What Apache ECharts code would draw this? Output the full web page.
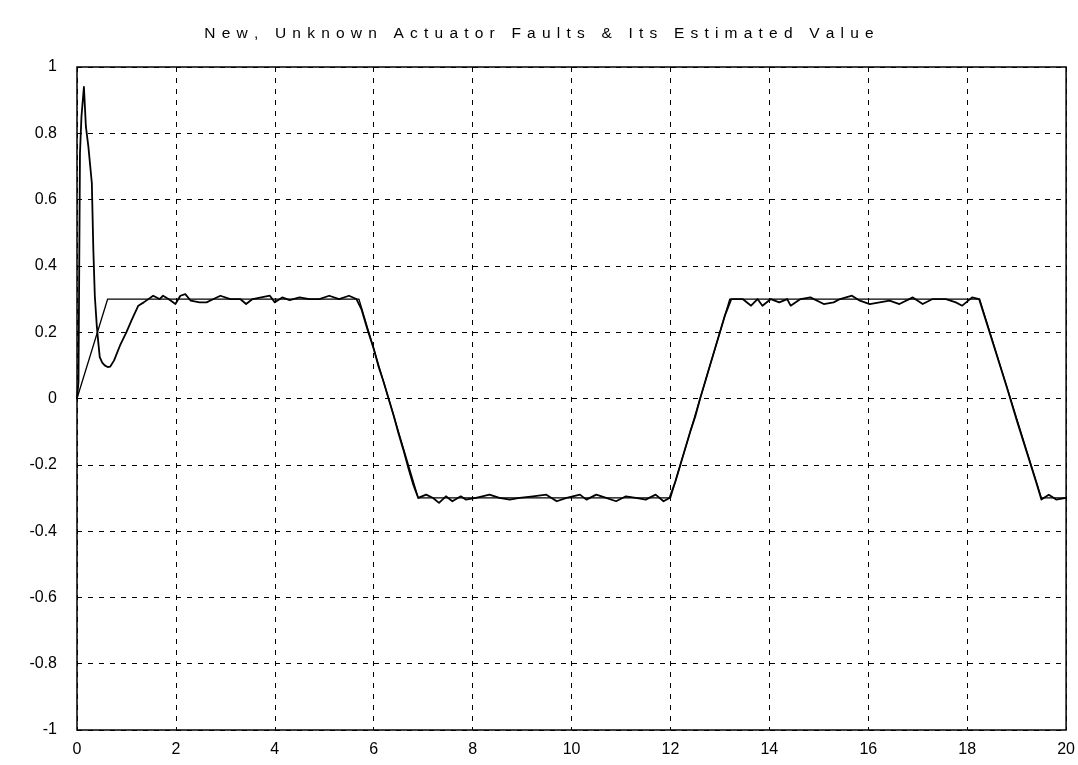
<!DOCTYPE html>
<html>
<head>
<meta charset="utf-8">
<title>Actuator fault estimation</title>
<script src="https://cdn.jsdelivr.net/npm/echarts@6/dist/echarts.min.js"></script>
<style>
  html, body { margin: 0; padding: 0; background: #fff; }
  #chart { width: 1078px; height: 765px; }
</style>
</head>
<body>
<div id="chart"></div>
<script>
// Actual fault signal (piecewise linear breakpoints)
var faultT = [0, 0.62, 5.7, 6.9, 12.0, 13.2, 18.25, 19.5, 20];
var faultV = [0, 0.3, 0.3, -0.3, -0.3, 0.3, 0.3, -0.3, -0.3];

// Estimated fault value from the observer
var estT = [0, 0.03, 0.06, 0.09, 0.14, 0.18, 0.23, 0.30, 0.33, 0.36, 0.40, 0.43, 0.46, 0.51, 0.56, 0.62, 0.67, 0.75, 0.87,
  1.00, 1.10, 1.24, 1.35, 1.54, 1.67, 1.74, 1.85, 1.99, 2.09, 2.19, 2.30, 2.48, 2.62, 2.76, 2.90,
  3.10, 3.30, 3.42, 3.55, 3.90, 4.00, 4.15, 4.30, 4.50, 4.70, 4.90, 5.10, 5.30, 5.50, 5.65, 5.75,
  5.87, 6.00, 6.10, 6.20, 6.30, 6.40, 6.50, 6.60, 6.70, 6.80, 6.90, 7.06, 7.20, 7.32, 7.46, 7.59,
  7.76, 7.86, 8.07, 8.34, 8.54, 8.75, 8.95, 9.22, 9.49, 9.70, 9.90, 10.17, 10.30, 10.50, 10.70, 10.90,
  11.10, 11.30, 11.50, 11.70, 11.86, 11.98, 12.10, 12.20, 12.30, 12.40, 12.50, 12.60, 12.70, 12.80, 12.90, 13.00,
  13.10, 13.23, 13.46, 13.63, 13.76, 13.86, 14.03, 14.20, 14.36, 14.43, 14.63, 14.83, 15.10, 15.30, 15.43, 15.67,
  15.83, 16.03, 16.23, 16.43, 16.63, 16.90, 17.10, 17.30, 17.57, 17.77, 17.90, 18.10, 18.24, 18.40, 18.60, 18.80,
  19.00, 19.20, 19.40, 19.50, 19.65, 19.80, 20.00];
var estV = [0.0, 0.05, 0.74, 0.85, 0.94, 0.82, 0.76, 0.65, 0.45, 0.31, 0.22, 0.17, 0.125, 0.108, 0.10, 0.095, 0.096, 0.115, 0.16,
  0.20, 0.235, 0.28, 0.29, 0.31, 0.30, 0.31, 0.30, 0.285, 0.31, 0.315, 0.295, 0.29, 0.29, 0.30, 0.31,
  0.30, 0.30, 0.285, 0.30, 0.31, 0.29, 0.305, 0.297, 0.305, 0.30, 0.30, 0.31, 0.30, 0.31, 0.30, 0.27,
  0.21, 0.15, 0.095, 0.05, 0.0, -0.05, -0.105, -0.155, -0.21, -0.26, -0.30, -0.29, -0.30, -0.315, -0.295, -0.31,
  -0.295, -0.305, -0.30, -0.29, -0.30, -0.305, -0.30, -0.295, -0.29, -0.31, -0.30, -0.29, -0.305, -0.29, -0.30, -0.31,
  -0.295, -0.30, -0.305, -0.29, -0.31, -0.30, -0.25, -0.20, -0.15, -0.10, -0.055, 0.0, 0.05, 0.10, 0.15, 0.20,
  0.25, 0.30, 0.30, 0.28, 0.30, 0.28, 0.30, 0.29, 0.30, 0.28, 0.30, 0.305, 0.285, 0.29, 0.30, 0.31,
  0.295, 0.285, 0.29, 0.295, 0.285, 0.305, 0.285, 0.30, 0.30, 0.29, 0.28, 0.305, 0.30, 0.225, 0.13, 0.035,
  -0.065, -0.16, -0.255, -0.305, -0.29, -0.305, -0.30];

var titleText = 'New, Unknown Actuator Faults & Its Estimated Value';

function zip(xs, ys) {
  return xs.map(function (x, i) { return [x, ys[i]]; });
}

// Spread the title letters out the way the plot caption is typeset
function spaced(s) {
  return s.split('').join('\u2009\u2009');
}

var chart = echarts.init(document.getElementById('chart'), null, { renderer: 'canvas' });

var labelStyle = {
  color: '#000',
  fontFamily: 'Liberation Sans, Arial, sans-serif',
  fontSize: 16
};

chart.setOption({
  backgroundColor: '#fff',
  animation: false,
  title: {
    text: spaced(titleText),
    left: 'center',
    top: 21,
    textStyle: {
      color: '#000',
      fontFamily: 'Liberation Sans, Arial, sans-serif',
      fontSize: 15.5,
      fontWeight: 'normal'
    }
  },
  grid: {
    left: 77,
    right: 10,
    top: 67,
    bottom: 35,
    show: true,
    borderColor: '#000',
    borderWidth: 1.5,
    backgroundColor: '#fff'
  },
  xAxis: {
    type: 'value',
    min: 0,
    max: 20,
    interval: 2,
    axisLine: { show: false },
    axisTick: { show: false },
    axisLabel: Object.assign({ margin: 12 }, labelStyle),
    splitLine: {
      show: true,
      lineStyle: { color: '#000', width: 1, type: [5, 6] }
    }
  },
  yAxis: {
    type: 'value',
    min: -1,
    max: 1,
    interval: 0.2,
    axisLine: { show: false },
    axisTick: { show: false },
    axisLabel: Object.assign({
      margin: 20,
      formatter: function (v) { return String(+v.toFixed(1)); }
    }, labelStyle),
    splitLine: {
      show: true,
      lineStyle: { color: '#000', width: 1, type: [5, 6] }
    }
  },
  series: [
    {
      name: 'Fault',
      type: 'line',
      data: zip(faultT, faultV),
      symbol: 'none',
      lineStyle: { color: '#000', width: 1.3 },
      z: 3
    },
    {
      name: 'Estimate',
      type: 'line',
      data: zip(estT, estV),
      symbol: 'none',
      lineStyle: { color: '#000', width: 1.8, join: 'round', cap: 'round' },
      z: 4
    }
  ]
});
</script>
</body>
</html>
